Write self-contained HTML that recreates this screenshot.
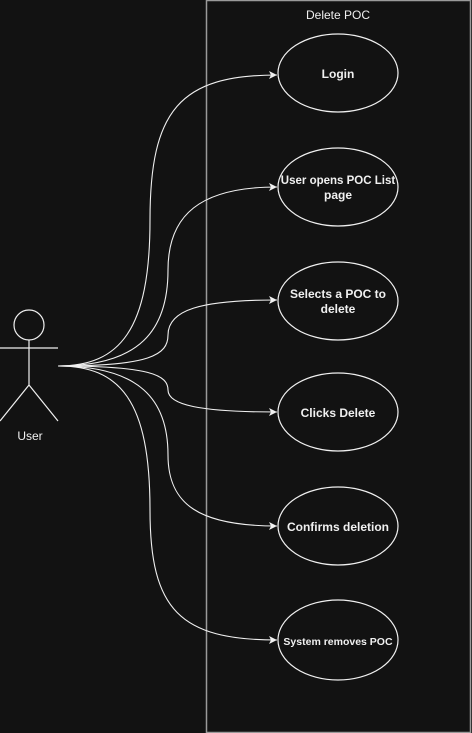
<!DOCTYPE html>
<html><head><style>
html,body{margin:0;padding:0;background:#121212;}
svg{display:block}
text{font-family:"Liberation Sans",Arial,sans-serif;fill:#f0f0f0;font-size:12px;text-anchor:middle;font-weight:bold}
</style></head><body>
<svg width="472" height="733" viewBox="0 0 472 733">
<defs><marker id="a" markerWidth="10" markerHeight="10" refX="9" refY="5" orient="auto" markerUnits="userSpaceOnUse"><path d="M1,1 L9,5 L1,9 L3,5 Z" fill="#f0f0f0"/></marker></defs>
<rect x="0" y="0" width="472" height="733" fill="#121212"/>
<rect x="206.5" y="0.5" width="264" height="732" fill="none" stroke="#9a9a9a" stroke-width="1.5"/>
<text x="338" y="19" style="font-weight:normal">Delete POC</text>
<g fill="none" stroke="#f0f0f0" stroke-width="1.2">
<ellipse cx="338" cy="73" rx="60" ry="39"/>
<ellipse cx="338" cy="187" rx="60" ry="39"/>
<ellipse cx="338" cy="301" rx="60" ry="39"/>
<ellipse cx="338" cy="412" rx="60" ry="39"/>
<ellipse cx="338" cy="526" rx="60" ry="39"/>
<ellipse cx="338" cy="640" rx="60" ry="40"/>
<circle cx="29" cy="325" r="15"/>
<path d="M29 340 V385 M0 348 H58 M29 385 L0 421 M29 385 L58 421"/>
</g>
<g fill="none" stroke="#f0f0f0" stroke-width="1.1" marker-end="url(#a)">
<path d="M58 366 C120 366 150 330 150 220 C150 110 180 75 277 75"/>
<path d="M58 366 C140 366 168 330 168 270 C168 215 200 187 277 187"/>
<path d="M58 366 C150 366 168 355 168 335 C168 310 200 300 277 300"/>
<path d="M58 366 C150 366 168 375 168 390 C168 405 200 412 277 412"/>
<path d="M58 366 C140 366 168 400 168 455 C168 505 200 526 277 526"/>
<path d="M58 366 C120 366 150 400 150 510 C150 610 180 640 277 640"/>
</g>
<text x="30" y="440" style="font-weight:normal">User</text>
<text x="338" y="78">Login</text>
<text x="338" y="184" style="font-size:11.5px">User opens POC List</text>
<text x="338" y="199">page</text>
<text x="338" y="298">Selects a POC to</text>
<text x="338" y="313">delete</text>
<text x="338" y="417">Clicks Delete</text>
<text x="338" y="531">Confirms deletion</text>
<text x="338" y="645" style="font-size:10.5px">System removes POC</text>
</svg>
</body></html>
